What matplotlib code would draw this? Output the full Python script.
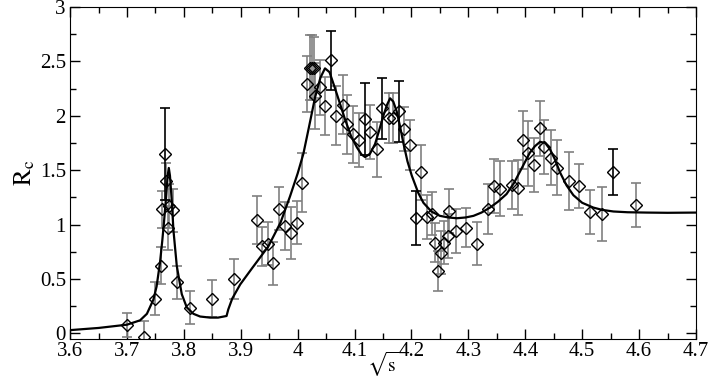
import numpy as np
import matplotlib.pyplot as plt
from matplotlib.ticker import MultipleLocator

plt.rcParams['font.family'] = ['Liberation Serif', 'DejaVu Serif']
plt.rcParams['mathtext.fontset'] = 'stix'

# measured points: sqrt(s), R_c, error, bar colour (k = black, g = gray)
pt_x = [3.700, 3.730, 3.749, 3.759, 3.762, 3.7675, 3.769, 3.772, 3.7745, 3.781,
        3.7875, 3.810, 3.849, 3.888, 3.928, 3.938, 3.9486, 3.957, 3.968, 3.978,
        3.988, 3.998, 4.007, 4.016, 4.022, 4.026, 4.029, 4.031, 4.039, 4.048,
        4.058, 4.0675, 4.079, 4.087, 4.098, 4.108, 4.118, 4.127, 4.139, 4.148,
        4.161, 4.168, 4.178, 4.187, 4.1975, 4.2075, 4.216, 4.227, 4.236, 4.2415,
        4.247, 4.252, 4.258, 4.264, 4.266, 4.278, 4.296, 4.316, 4.335, 4.3457,
        4.3557, 4.376, 4.387, 4.3956, 4.404, 4.4155, 4.426, 4.433, 4.445, 4.4565,
        4.477, 4.495, 4.514, 4.5355, 4.555, 4.5947]
pt_y = [0.08, -0.03, 0.32, 0.62, 1.14, 1.65, 1.40, 0.97, 1.17, 1.13,
        0.47, 0.236, 0.32, 0.50, 1.04, 0.80, 0.825, 0.644, 1.147, 0.987,
        0.92, 1.018, 1.386, 2.29, 2.44, 2.44, 2.44, 2.18, 2.26, 2.09,
        2.51, 2.00, 2.10, 1.92, 1.83, 1.776, 1.97, 1.85, 1.69, 2.07,
        1.98, 1.98, 2.04, 1.877, 1.73, 1.06, 1.48, 1.07, 1.10, 0.834,
        0.573, 0.742, 0.834, 0.895, 1.125, 0.94, 0.97, 0.825, 1.14, 1.355,
        1.33, 1.36, 1.34, 1.776, 1.656, 1.545, 1.883, 1.71, 1.616, 1.524,
        1.40, 1.355, 1.116, 1.095, 1.484, 1.178]
pt_err = [0.11, 0.14, 0.15, 0.17, 0.17, 0.42, 0.17, 0.20, 0.20, 0.20,
          0.15, 0.15, 0.17, 0.18, 0.22, 0.18, 0.20, 0.20, 0.20, 0.22,
          0.24, 0.20, 0.27, 0.26, 0.30, 0.30, 0.28, 0.30, 0.25, 0.27,
          0.27, 0.27, 0.27, 0.27, 0.26, 0.25, 0.33, 0.25, 0.25, 0.28,
          0.23, 0.23, 0.28, 0.20, 0.23, 0.25, 0.25, 0.20, 0.20, 0.18,
          0.18, 0.20, 0.20, 0.20, 0.20, 0.20, 0.18, 0.20, 0.23, 0.25,
          0.25, 0.22, 0.25, 0.27, 0.30, 0.25, 0.25, 0.25, 0.25, 0.25,
          0.27, 0.20, 0.20, 0.25, 0.21, 0.20]
pt_col = ['g', 'g', 'g', 'g', 'g', 'k', 'g', 'g', 'g', 'g',
          'g', 'g', 'g', 'g', 'g', 'g', 'g', 'g', 'g', 'g',
          'g', 'g', 'g', 'g', 'g', 'g', 'g', 'g', 'g', 'g',
          'k', 'g', 'g', 'g', 'g', 'g', 'k', 'g', 'g', 'k',
          'g', 'g', 'k', 'g', 'g', 'k', 'g', 'g', 'g', 'g',
          'g', 'g', 'g', 'g', 'g', 'g', 'g', 'g', 'g', 'g',
          'g', 'g', 'g', 'g', 'g', 'g', 'g', 'g', 'g', 'g',
          'g', 'g', 'g', 'g', 'k', 'g']

# fit curve
curve_x = [3.60, 3.65, 3.70, 3.723, 3.735, 3.7464, 3.752, 3.758, 3.762, 3.765,
           3.7687, 3.7715, 3.7735, 3.7755, 3.7787, 3.7816, 3.7875, 3.7963, 3.805, 3.8167,
           3.8285, 3.846, 3.86, 3.875, 3.878, 3.885, 3.899, 3.92, 3.9485, 3.97,
           3.9866, 4.0, 4.010, 4.02, 4.0306, 4.04, 4.048, 4.056, 4.0657, 4.075,
           4.083, 4.094, 4.104, 4.112, 4.1185, 4.127, 4.136, 4.144, 4.1506, 4.157,
           4.1624, 4.168, 4.174, 4.18, 4.1857, 4.193, 4.2005, 4.212, 4.221, 4.235,
           4.25, 4.265, 4.2796, 4.295, 4.309, 4.323, 4.338, 4.352, 4.367, 4.38,
           4.391, 4.40, 4.408, 4.417, 4.426, 4.435, 4.4436, 4.452, 4.461, 4.4725,
           4.4845, 4.50, 4.5196, 4.535, 4.555, 4.58, 4.6135, 4.65, 4.70]
curve_y = [0.03, 0.05, 0.08, 0.12, 0.18, 0.31, 0.43, 0.65, 0.85, 1.02,
           1.25, 1.45, 1.52, 1.45, 1.22, 0.95, 0.62, 0.36, 0.24, 0.18,
           0.155, 0.145, 0.145, 0.16, 0.22, 0.32, 0.45, 0.60, 0.80, 1.02,
           1.26, 1.47, 1.65, 1.90, 2.17, 2.35, 2.435, 2.40, 2.25, 2.10,
           1.97, 1.81, 1.71, 1.645, 1.62, 1.65, 1.74, 1.88, 2.00, 2.10,
           2.16, 2.13, 2.04, 1.90, 1.75, 1.58, 1.45, 1.29, 1.20, 1.12,
           1.08, 1.065, 1.058, 1.065, 1.08, 1.11, 1.156, 1.21, 1.28, 1.38,
           1.49, 1.58, 1.66, 1.72, 1.76, 1.75, 1.69, 1.60, 1.48, 1.36,
           1.27, 1.20, 1.156, 1.135, 1.12, 1.113, 1.11, 1.108, 1.11]

fig = plt.figure(figsize=(7.08, 3.82), dpi=100)
ax = fig.add_axes([0.099, 0.113, 0.884, 0.869])

pt_x = np.array(pt_x)
pt_y = np.array(pt_y)
pt_err = np.array(pt_err)
pt_col = np.array(pt_col)

for c, colour in [('g', '#808080'), ('k', 'black')]:
    m = pt_col == c
    ax.errorbar(pt_x[m], pt_y[m], yerr=pt_err[m], fmt='none', ecolor=colour,
                elinewidth=1.2, capsize=3.5, capthick=1.2, zorder=2)

ax.plot(curve_x, curve_y, color='black', lw=1.6, zorder=3)
ax.plot(pt_x, pt_y, 'D', ms=6.5, mfc='none', mec='black', mew=1.0, zorder=4)

ax.set_xlim(3.6, 4.7)
ax.set_ylim(-0.05, 3.0)
ax.xaxis.set_minor_locator(MultipleLocator(0.05))
ax.yaxis.set_minor_locator(MultipleLocator(0.25))
ax.set_xticks(np.arange(3.6, 4.71, 0.1))
ax.set_xticklabels(['3.6', '3.7', '3.8', '3.9', '4', '4.1', '4.2', '4.3',
                    '4.4', '4.5', '4.6', '4.7'])
ax.set_yticks([0, 0.5, 1, 1.5, 2, 2.5, 3])
ax.set_yticklabels(['0', '0.5', '1', '1.5', '2', '2.5', '3'])
ax.tick_params(which='both', direction='in', top=True, right=True, labelsize=15)
ax.tick_params(which='major', length=7, width=1)
ax.tick_params(which='minor', length=4, width=1)
ax.tick_params(axis='x', pad=2)
ax.tick_params(axis='y', pad=3)

ax.set_xlabel(r'$\sqrt{\mathrm{s}}$', fontsize=14)
ax.xaxis.set_label_coords(0.5, -0.035)
ax.set_ylabel(r'$\mathrm{R_c}$', fontsize=18, labelpad=2)

fig.savefig('out.png', dpi=100)
